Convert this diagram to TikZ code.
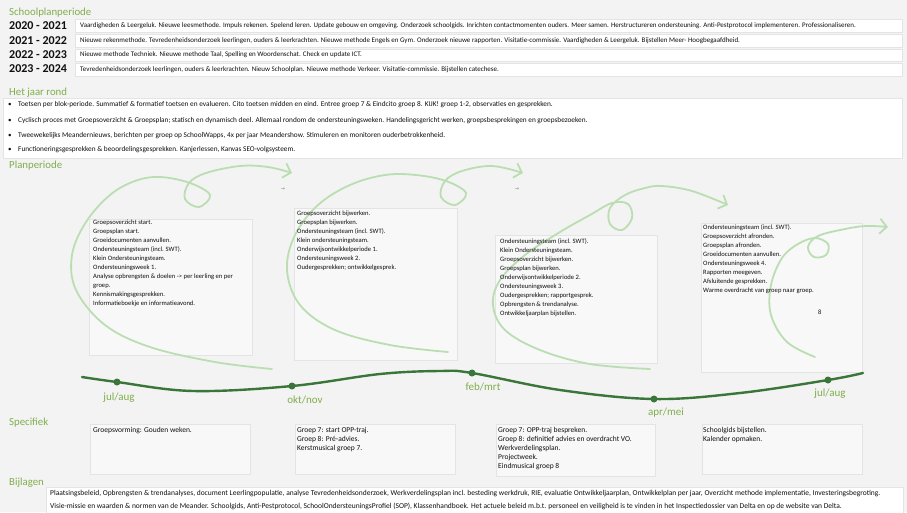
\documentclass[tikz,border=0pt]{standalone}
\usepackage{fontspec}
\setmainfont{Carlito}
\newfontfamily\arrowfont{DejaVu Sans}
\usetikzlibrary{arrows.meta, positioning}
\definecolor{pagecolor}{RGB}{243,243,243}
\definecolor{headcolor}{RGB}{128,174,76}
\definecolor{wavecolor}{RGB}{58,118,58}
\definecolor{swirlcolor}{RGB}{186,222,178}
\definecolor{inkcolor}{RGB}{15,15,15}
\definecolor{rimcolor}{RGB}{228,228,228}

\begin{document}
\begin{tikzpicture}[
    x=1pt, y=-1pt,
    heading/.style={anchor=west, inner sep=0pt, text=headcolor, font=\fontsize{10.8}{12}\selectfont},
    year/.style={anchor=west, inner sep=0pt, text=inkcolor, font=\fontsize{12}{13}\selectfont\bfseries},
    rowtext/.style={anchor=west, inner sep=0pt, text=inkcolor, font=\fontsize{7}{8}\selectfont},
    band/.style={fill=white, draw=rimcolor, line width=0.4pt},
    panel/.style={fill=white!45!pagecolor, draw=rimcolor, line width=0.5pt},
    tasks/.style={anchor=north west, align=left, inner sep=0pt, text=inkcolor, font=\fontsize{6.6}{9}\selectfont},
    extras/.style={anchor=north west, align=left, inner sep=0pt, text=inkcolor, font=\fontsize{7.5}{9}\selectfont},
    month/.style={inner sep=0pt, text=headcolor, font=\fontsize{11}{12}\selectfont},
    monthdot/.style={circle, fill=wavecolor, inner sep=0pt, minimum size=7pt},
    swirl/.style={draw=swirlcolor, line width=1.8pt, line cap=round, -{Straight Barb[length=7pt,width=15pt]}},
    tick/.style={inner sep=0pt, text=gray, font=\arrowfont\fontsize{5}{5}\selectfont}
]
    \useasboundingbox (0,0) rectangle (907,512);
    \fill[pagecolor] (0,0) rectangle (907,512);

    % Schoolplanperiode
    \node[heading] (school) at (9,13) {Schoolplanperiode};
    \path[band] (75,19.5) rectangle (902,32.5);
    \path[band] (75,34.5) rectangle (902,47.5);
    \path[band] (75,48.8) rectangle (902,61.5);
    \path[band] (75,62.8) rectangle (902,76);
    \node[year] (y1) at (9,26) {2020 - 2021};
    \node[rowtext] (t1) at (80,26) {Vaardigheden \& Leergeluk. Nieuwe leesmethode. Impuls rekenen. Spelend leren. Update gebouw en omgeving. Onderzoek schoolgids. Inrichten contactmomenten ouders. Meer samen. Herstructureren ondersteuning. Anti-Pestprotocol implementeren. Professionaliseren.};
    \node[year] (y2) at (9,41) {2021 - 2022};
    \node[rowtext] (t2) at (80,41) {Nieuwe rekenmethode. Tevredenheidsonderzoek leerlingen, ouders \& leerkrachten. Nieuwe methode Engels en Gym. Onderzoek nieuwe rapporten. Visitatie-commissie. Vaardigheden \& Leergeluk. Bijstellen Meer- Hoogbegaafdheid.};
    \node[year] (y3) at (9,55) {2022 - 2023};
    \node[rowtext] (t3) at (80,55) {Nieuwe methode Techniek. Nieuwe methode Taal, Spelling en Woordenschat. Check en update ICT.};
    \node[year] (y4) at (9,69) {2023 - 2024};
    \node[rowtext] (t4) at (80,69.5) {Tevredenheidsonderzoek leerlingen, ouders \& leerkrachten. Nieuw Schoolplan. Nieuwe methode Verkeer. Visitatie-commissie. Bijstellen catechese.};

    % Het jaar rond
    \node[heading] (yearround) at (9,93) {Het jaar rond};
    \path[band] (3,98) rectangle (902,158);
    \node[rowtext] (b1) at (8,105) {\textbullet};
    \node[rowtext, font=\fontsize{7.3}{8}\selectfont] (r1) at (18,105) {Toetsen per blok-periode. Summatief \& formatief toetsen en evalueren. Cito toetsen midden en eind. Entree groep 7 \& Eindcito groep 8. KIJK! groep 1-2, observaties en gesprekken.};
    \node[rowtext] (b2) at (8,120.5) {\textbullet};
    \node[rowtext, font=\fontsize{7.3}{8}\selectfont] (r2) at (18,120.5) {Cyclisch proces met Groepsoverzicht \& Groepsplan; statisch en dynamisch deel. Allemaal rondom de ondersteuningsweken. Handelingsgericht werken, groepsbesprekingen en groepsbezoeken.};
    \node[rowtext] (b3) at (8,135.5) {\textbullet};
    \node[rowtext, font=\fontsize{7.3}{8}\selectfont] (r3) at (18,135.5) {Tweewekelijks Meandernieuws, berichten per groep op SchoolWapps, 4x per jaar Meandershow. Stimuleren en monitoren ouderbetrokkenheid.};
    \node[rowtext] (b4) at (8,150) {\textbullet};
    \node[rowtext, font=\fontsize{7.3}{8}\selectfont] (r4) at (18,150) {Functioneringsgesprekken \& beoordelingsgesprekken. Kanjerlessen, Kanvas SEO-volgsysteem.};

    % Planperiode
    \node[heading] (plan) at (9,166) {Planperiode};
    \path[panel] (89,219) rectangle (252,355);
    \path[panel] (294,208) rectangle (457,360);
    \path[panel] (495,235) rectangle (657,363);
    \path[panel] (701,223) rectangle (862,372);

    % Swirls
    \draw[swirl] plot[smooth, tension=0.6] coordinates {(272,369) (215,362) (150,347) (105,325) (76,290) (72,255) (86,222) (110,195) (135,181) (160,177) (190,183) (210,195) (199,207) (185,199) (189,183) (206,173) (240,166) (268,167) (292,173)};
    \draw[swirl] plot[smooth, tension=0.6] coordinates {(448,352) (390,345) (335,330) (300,305) (287,270) (295,235) (318,205) (350,185) (385,175) (416,175) (446,181) (466,193) (455,205) (441,197) (445,181) (462,171) (492,166) (523,173)};
    \draw[swirl] plot[smooth, tension=0.6] coordinates {(650,369) (590,364) (540,350) (505,330) (493,305) (500,280) (525,255) (560,232) (590,215) (612,203) (628,204) (632,218) (622,230) (610,224) (610,208) (625,195) (645,188) (662,186) (692,191) (728,205)};
    \draw[swirl] plot[smooth, tension=0.6] coordinates {(815,357) (787,342) (771,315) (771,285) (782,258) (798,244) (815,238) (828,244) (826,255) (814,257) (808,247) (818,236) (845,229) (866,226) (888,227)};
    \node[tick] (tick1) at (283,189) {→};
    \node[tick] (tick2) at (517,189) {→};

    \node[tasks] (plan1) at (93,220) {Groepsoverzicht start.\\Groepsplan start.\\Groeidocumenten aanvullen.\\Ondersteuningsteam (incl. SWT).\\Klein Ondersteuningsteam.\\Ondersteuningsweek 1.\\Analyse opbrengsten \& doelen -> per leerling en per\\groep.\\Kennismakingsgesprekken.\\Informatieboekje en informatieavond.};
    \node[tasks] (plan2) at (297,211) {Groepsoverzicht bijwerken.\\Groepsplan bijwerken.\\Ondersteuningsteam (incl. SWT).\\Klein ondersteuningsteam.\\Onderwijsontwikkelperiode 1.\\Ondersteuningsweek 2.\\Oudergesprekken; ontwikkelgesprek.};
    \node[tasks] (plan3) at (500,238) {Ondersteuningsteam (incl. SWT).\\Klein Ondersteuningsteam.\\Groepsoverzicht bijwerken.\\Groepsplan bijwerken.\\Onderwijsontwikkelperiode 2.\\Ondersteuningsweek 3.\\Oudergesprekken; rapportgesprek.\\Opbrengsten \& trendanalyse.\\Ontwikkeljaarplan bijstellen.};
    \node[tasks] (plan4) at (703,224) {Ondersteuningsteam (incl. SWT).\\Groepsoverzicht afronden.\\Groepsplan afronden.\\Groeidocumenten aanvullen.\\Ondersteuningsweek 4.\\Rapporten meegeven.\\Afsluitende gesprekken.\\Warme overdracht van groep naar groep.};
    \node[tasks] (eight) at (818,310) {8};

    % Timeline
    \coordinate (m1) at (117,382);
    \coordinate (m2) at (292,386);
    \coordinate (m3) at (472,373);
    \coordinate (m4) at (654,399);
    \coordinate (m5) at (828,380);
    \draw[wavecolor, line width=2.4pt, line cap=round] plot[smooth, tension=0.6] coordinates {(82,377) (m1) (193,391) (m2) (380,374) (440,371) (m3) (560,390) (m4) (740,393) (m5) (863,373)};
    \node[monthdot] (d1) at (m1) {};
    \node[monthdot] (d2) at (m2) {};
    \node[monthdot] (d3) at (m3) {};
    \node[monthdot] (d4) at (m4) {};
    \node[monthdot] (d5) at (m5) {};
    \node[month] (jul1) at (119,398) {jul/aug};
    \node[month] (okt) at (305,400) {okt/nov};
    \node[month] (feb) at (483,387) {feb/mrt};
    \node[month] (apr) at (666,413) {apr/mei};
    \node[month] (jul2) at (830,394) {jul/aug};

    % Specifiek
    \node[heading] (specific) at (9,423) {Specifiek};
    \path[panel] (90,424) rectangle (250,474);
    \path[panel] (295,424) rectangle (455,474);
    \path[panel] (496,424) rectangle (655,476);
    \path[panel] (702,424) rectangle (862,474);
    \node[extras] (spec1) at (93,427) {Groepsvorming: Gouden weken.};
    \node[extras] (spec2) at (297,427) {Groep 7: start OPP-traj.\\Groep 8: Pré-advies.\\Kerstmusical groep 7.};
    \node[extras] (spec3) at (498,427) {Groep 7: OPP-traj bespreken.\\Groep 8: definitief advies en overdracht VO.\\Werkverdelingsplan.\\Projectweek.\\Eindmusical groep 8};
    \node[extras] (spec4) at (703,427) {Schoolgids bijstellen.\\Kalender opmaken.};

    % Bijlagen
    \node[heading] (annex) at (9,483) {Bijlagen};
    \path[band] (46,487) rectangle (903,513);
    \node[rowtext, font=\fontsize{7.5}{8}\selectfont] (a1) at (50,494) {Plaatsingsbeleid, Opbrengsten \& trendanalyses, document Leerlingpopulatie, analyse Tevredenheidsonderzoek, Werkverdelingsplan incl. besteding werkdruk, RIE, evaluatie Ontwikkeljaarplan, Ontwikkelplan per jaar, Overzicht methode implementatie, Investeringsbegroting.};
    \node[rowtext, font=\fontsize{7.5}{8}\selectfont] (a2) at (50,506) {Visie-missie en waarden \& normen van de Meander. Schoolgids,  Anti-Pestprotocol, SchoolOndersteuningsProfiel (SOP), Klassenhandboek. Het actuele beleid m.b.t. personeel en veiligheid is te vinden in het Inspectiedossier van Delta en op de website van Delta.};

\end{tikzpicture}
\end{document}
